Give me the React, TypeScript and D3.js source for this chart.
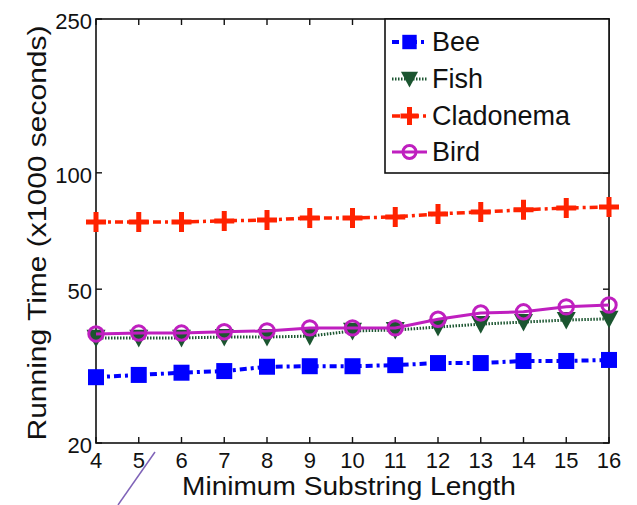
import { useEffect, useRef } from "react";
import * as d3 from "d3";

// x values: minimum substring length
const lengths = [4, 5, 6, 7, 8, 9, 10, 11, 12, 13, 14, 15, 16];

// running time (x1000 seconds)
const bee = [29.6, 30.0, 30.4, 30.7, 31.5, 31.6, 31.6, 31.8, 32.2, 32.2, 32.6, 32.6, 32.8];
const fish = [37.4, 37.4, 37.4, 37.6, 37.6, 37.8, 39.0, 39.2, 39.9, 40.6, 41.1, 41.6, 41.9];
const cladonema = [74.6, 74.6, 74.6, 75.1, 75.5, 76.4, 76.4, 76.9, 78.3, 79.2, 80.2, 81.1, 81.6];
const bird = [38.3, 38.5, 38.5, 38.8, 39.0, 39.7, 39.7, 39.7, 41.8, 43.4, 43.7, 45.0, 45.5];

const yTicks = [20, 50, 100, 250];

const seriesNames = ["Bee", "Fish", "Cladonema", "Bird"];

export default function App() {
  const ref = useRef<SVGSVGElement | null>(null);

  useEffect(() => {
    const svg = d3.select(ref.current);
    svg.selectAll("*").remove();

    const left = 96;
    const right = 609;
    const top = 19;
    const bottom = 443;

    const x = d3.scaleLinear().domain([4, 16]).range([left, right]);
    const y = d3.scaleLog().domain([20, 250]).range([bottom, top]);

    const series = [
      { name: seriesNames[0], values: bee, color: "#0000ff", dash: "7 4 3 4", width: 4, marker: "square" },
      { name: seriesNames[1], values: fish, color: "#1b5530", dash: "1.5 1.5", width: 3, marker: "triangle" },
      { name: seriesNames[2], values: cladonema, color: "#ff2200", dash: "8 4 3 4", width: 3.5, marker: "plus" },
      { name: seriesNames[3], values: bird, color: "#bf1fbf", dash: null, width: 3, marker: "circle" },
    ];

    const font = "'Liberation Sans', Arial, Helvetica, sans-serif";

    // box
    svg
      .append("rect")
      .attr("x", left)
      .attr("y", top)
      .attr("width", right - left)
      .attr("height", bottom - top)
      .attr("fill", "white")
      .attr("stroke", "#111")
      .attr("stroke-width", 1.6);

    // ticks, inside, on all four sides
    const tickLen = 6;
    const ticks = svg.append("g").attr("stroke", "#111").attr("stroke-width", 1.4);
    lengths.forEach((v) => {
      ticks.append("line").attr("x1", x(v)).attr("x2", x(v)).attr("y1", bottom).attr("y2", bottom - tickLen);
      ticks.append("line").attr("x1", x(v)).attr("x2", x(v)).attr("y1", top).attr("y2", top + tickLen);
    });
    yTicks.forEach((v) => {
      ticks.append("line").attr("x1", left).attr("x2", left + tickLen).attr("y1", y(v)).attr("y2", y(v));
      ticks.append("line").attr("x1", right).attr("x2", right - tickLen).attr("y1", y(v)).attr("y2", y(v));
    });

    // tick labels
    svg
      .append("g")
      .selectAll("text")
      .data(lengths)
      .enter()
      .append("text")
      .attr("x", (d) => x(d))
      .attr("y", 468)
      .attr("text-anchor", "middle")
      .attr("font-family", font)
      .attr("font-size", 22)
      .attr("fill", "#111")
      .text((d) => d);

    svg
      .append("g")
      .selectAll("text")
      .data(yTicks)
      .enter()
      .append("text")
      .attr("x", 92)
      .attr("y", (d) => y(d) + 10)
      .attr("text-anchor", "end")
      .attr("font-family", font)
      .attr("font-size", 22)
      .attr("fill", "#111")
      .text((d) => d);

    // axis titles
    svg
      .append("text")
      .attr("x", 349)
      .attr("y", 495)
      .attr("text-anchor", "middle")
      .attr("font-family", font)
      .attr("font-size", 25)
      .attr("textLength", 334)
      .attr("lengthAdjust", "spacingAndGlyphs")
      .attr("fill", "#111")
      .text("Minimum Substring Length");

    svg
      .append("text")
      .attr("transform", "translate(46,233) rotate(-90)")
      .attr("text-anchor", "middle")
      .attr("font-family", font)
      .attr("font-size", 25)
      .attr("textLength", 415)
      .attr("lengthAdjust", "spacingAndGlyphs")
      .attr("fill", "#111")
      .text("Running Time (x1000 seconds)");

    const drawMarker = (g: any, kind: string, cx: number, cy: number, color: string, k = 1) => {
      if (kind === "square") {
        const h = 8 * k;
        g.append("rect")
          .attr("x", cx - h)
          .attr("y", cy - h)
          .attr("width", 2 * h)
          .attr("height", 2 * h)
          .attr("fill", color);
      } else if (kind === "triangle") {
        const h = 9.5 * k;
        g.append("path")
          .attr("d", `M${cx - h},${cy - h * 0.85}L${cx + h},${cy - h * 0.85}L${cx},${cy + h}Z`)
          .attr("fill", color);
      } else if (kind === "plus") {
        const h = 10 * k;
        g.append("path")
          .attr("d", `M${cx - h},${cy}L${cx + h},${cy}M${cx},${cy - h}L${cx},${cy + h}`)
          .attr("stroke", color)
          .attr("stroke-width", 5)
          .attr("fill", "none");
      } else {
        g.append("circle")
          .attr("cx", cx)
          .attr("cy", cy)
          .attr("r", 7.2 * k)
          .attr("fill", "none")
          .attr("stroke", color)
          .attr("stroke-width", 3);
      }
    };

    // series lines + markers
    series.forEach((s) => {
      const line = d3
        .line<number>()
        .x((_, i) => x(lengths[i]))
        .y((d) => y(d));
      const path = svg
        .append("path")
        .datum(s.values)
        .attr("d", line)
        .attr("fill", "none")
        .attr("stroke", s.color)
        .attr("stroke-width", s.width);
      if (s.dash) path.attr("stroke-dasharray", s.dash);
      const g = svg.append("g");
      s.values.forEach((v, i) => drawMarker(g, s.marker, x(lengths[i]), y(v), s.color));
    });

    // legend
    const legend = svg.append("g");
    legend
      .append("rect")
      .attr("x", 385)
      .attr("y", top)
      .attr("width", right - 385)
      .attr("height", 154)
      .attr("fill", "white")
      .attr("stroke", "#111")
      .attr("stroke-width", 1.6);
    const rowY = [42, 79, 116, 152];
    series.forEach((s, i) => {
      const ly = rowY[i];
      const l = legend
        .append("line")
        .attr("x1", 392)
        .attr("x2", 427)
        .attr("y1", ly)
        .attr("y2", ly)
        .attr("stroke", s.color)
        .attr("stroke-width", s.width);
      if (s.dash) l.attr("stroke-dasharray", s.dash);
      drawMarker(legend, s.marker, 409.5, ly, s.color, 0.9);
      legend
        .append("text")
        .attr("x", 432)
        .attr("y", ly + 9)
        .attr("font-family", font)
        .attr("font-size", 27)
        .attr("fill", "#111")
        .text(s.name);
    });

    // stray diagonal stroke seen in the picture
    svg
      .append("line")
      .attr("x1", 155)
      .attr("y1", 452)
      .attr("x2", 118)
      .attr("y2", 505)
      .attr("stroke", "#7f63b8")
      .attr("stroke-width", 1.5);
  }, []);

  return (
    <svg
      ref={ref}
      width={637}
      height={505}
      style={{ position: "absolute", left: 0, top: 0, background: "white" }}
    />
  );
}
